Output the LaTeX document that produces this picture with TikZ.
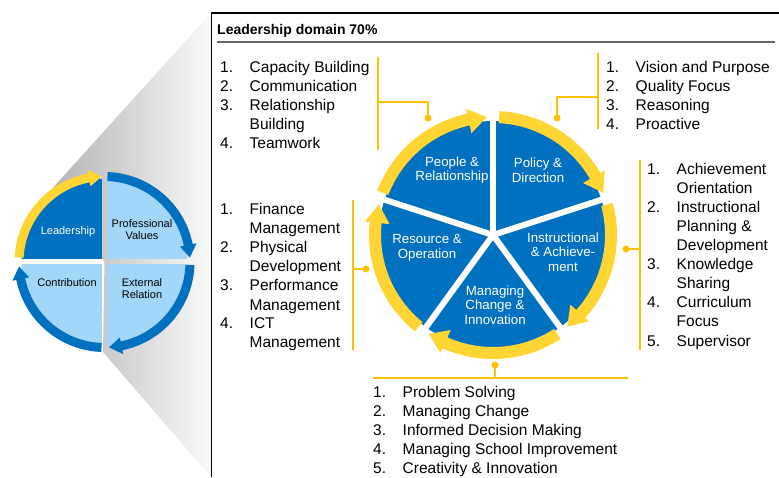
\documentclass[tikz,border=0pt]{standalone}
\usepackage{fontspec}
\setmainfont{Liberation Sans}
\definecolor{dblue}{RGB}{0,112,192}
\definecolor{lblue}{RGB}{162,215,250}
\definecolor{yel}{RGB}{255,213,51}
\definecolor{connc}{RGB}{255,192,0}
% #1 colour, #2 start angle, #3 tip angle, #4 r in, #5 r out, #6 head length (deg), #7 head inner r, #8 head outer r
\newcommand\ringarrow[8]{%
  \pgfmathsetmacro\arHB{#3+#6}%
  \pgfmathsetmacro\arRM{(#4+#5)/2}%
  \fill[#1] (#2:#5) arc[start angle=#2, end angle=\arHB, radius=#5] -- (\arHB:#8) -- (#3:\arRM) -- (\arHB:#7) -- (\arHB:#4) arc[start angle=\arHB, end angle=#2, radius=#4] -- cycle;%
}
\tikzset{
  lst/.style={font=\fontsize{15.5}{19}\selectfont, inner sep=0pt, anchor=base west},
  ttlstyle/.style={font=\fontsize{14}{16}\selectfont\bfseries, inner sep=0pt, anchor=base west},
  wheellbl/.style={font=\fontsize{13.3}{14.5}\selectfont, text=white, align=center, inner sep=0pt},
  quadlbl/.style={font=\fontsize{11}{12}\selectfont, align=center, inner sep=0pt},
  conn/.style={draw=connc, line width=1.5},
  dot/.style={circle, fill=connc, inner sep=0pt, minimum size=7},
}
\begin{document}
\begin{tikzpicture}[x=1pt,y=1pt]
\useasboundingbox (0,0) rectangle (779,477);
% grey zoom wedge
\shade[left color=black!30, right color=black!2] (211,464) -- (50,286) -- (104.5,215) -- (103,125) -- (211,0) -- cycle;
% frame
\draw[line width=1.3] (211.5,0) -- (211.5,464) -- (779,464);
\node[ttlstyle] (ttl) at (217,442) {Leadership domain 70\%};
\draw[black!60, line width=1.2] (217,435) -- (775,435);

% ---------- left circle ----------
\begin{scope}[shift={(104.5,215)}]
  \begin{scope}
    \clip (0,0) circle[radius=83];
    \fill[dblue] (-100,2.5) rectangle (-2.5,100);
    \fill[lblue] (2.5,2.5) rectangle (100,100);
    \fill[lblue] (2.5,-2.5) rectangle (100,-100);
    \fill[lblue] (-100,-2.5) rectangle (-2.5,-100);
  \end{scope}
  \ringarrow{yel}{177}{92}{81}{90}{8.5}{77}{94}
  \ringarrow{dblue}{88}{3}{81}{90}{8.5}{77}{94}
  \ringarrow{dblue}{-2}{-87}{81}{90}{8.5}{77}{94}
  \ringarrow{dblue}{268}{183}{81}{90}{8.5}{77}{94}
  \node[quadlbl, text=white] (qlead) at (-36.5,30) {Leadership};
  \node[quadlbl] (qprof) at (37.5,32) {Professional\\Values};
  \node[quadlbl] (qcont) at (-37.5,-21) {Contribution};
  \node[quadlbl] (qext) at (37.5,-27) {External\\Relation};
\end{scope}

% ---------- main wheel ----------
\begin{scope}[shift={(493,242)}]
  \fill[dblue] (0,0) circle[radius=114];
  \foreach \a in {90,18,-54,-126,162} \draw[white, line width=6] (0,0) -- (\a:116);
  \ringarrow{yel}{159}{93}{112}{124}{9}{104}{129}
  \ringarrow{yel}{87}{21}{112}{124}{9}{104}{129}
  \ringarrow{yel}{15}{-51}{112}{124}{9}{104}{129}
  \ringarrow{yel}{-57}{-123}{112}{124}{9}{104}{129}
  \ringarrow{yel}{231}{165}{112}{124}{9}{104}{129}
  \node[wheellbl] (wpeople) at (-41,65) {People \&\\Relationship};
  \node[wheellbl] (wpolicy) at (45,65) {Policy \&\\Direction};
  \node[wheellbl] (winstr) at (70,-17) {Instructional\\\& Achieve-\\ment};
  \node[wheellbl] (wmanag) at (2,-70) {Managing\\Change \&\\Innovation};
  \node[wheellbl] (wresrc) at (-66,-13) {Resource \&\\Operation};
\end{scope}

% ---------- lists ----------
\foreach \nm/\tx [count=\i] in {1./Capacity Building, 2./Communication, 3./Relationship, {}/Building, 4./Teamwork} {
  \node[lst] (lan\i) at (220,423-19*\i) {\nm};
  \node[lst] (lat\i) at (249.5,423-19*\i) {\tx};
}
\foreach \nm/\tx [count=\i] in {1./Vision and Purpose, 2./Quality Focus, 3./Reasoning, 4./Proactive} {
  \node[lst] (lbn\i) at (606,423-19*\i) {\nm};
  \node[lst] (lbt\i) at (635.5,423-19*\i) {\tx};
}
\foreach \nm/\tx [count=\i] in {1./Achievement, {}/Orientation, 2./Instructional, {}/Planning \&, {}/Development, 3./Knowledge, {}/Sharing, 4./Curriculum, {}/Focus, 5./Supervisor} {
  \node[lst] (lcn\i) at (647,321-19*\i) {\nm};
  \node[lst] (lct\i) at (676.5,321-19*\i) {\tx};
}
\foreach \nm/\tx [count=\i] in {1./Finance, {}/Management, 2./Physical, {}/Development, 3./Performance, {}/Management, 4./ICT, {}/Management} {
  \node[lst] (ldn\i) at (220,281-19*\i) {\nm};
  \node[lst] (ldt\i) at (249.5,281-19*\i) {\tx};
}
\foreach \nm/\tx [count=\i] in {1./Problem Solving, 2./Managing Change, 3./Informed Decision Making, 4./Managing School Improvement, 5./Creativity \& Innovation} {
  \node[lst] (len\i) at (373,99-19*\i) {\nm};
  \node[lst] (let\i) at (402.5,99-19*\i) {\tx};
}

% ---------- connectors ----------
\node[dot] (dot1) at (428,359) {};
\node[dot] (dot2) at (557,359) {};
\node[dot] (dot3) at (626,228) {};
\node[dot] (dot4) at (366,208) {};
\node[dot] (dot5) at (495,112) {};
\coordinate (b1t) at (378,420); \coordinate (b1b) at (378,327); \coordinate (b1m) at (378,375);
\coordinate (b2t) at (598,424); \coordinate (b2b) at (598,348); \coordinate (b2m) at (598,380);
\coordinate (b3t) at (640,317); \coordinate (b3b) at (640,127); \coordinate (b3m) at (640,228);
\coordinate (b4t) at (353,277); \coordinate (b4b) at (353,127); \coordinate (b4m) at (353,208);
\coordinate (b5l) at (373,99); \coordinate (b5r) at (628,99); \coordinate (b5m) at (495,99);
\draw[conn] (b1t) -- (b1b);
\draw[conn] (b1m) -| (dot1.center);
\draw[conn] (b2t) -- (b2b);
\draw[conn] (b2m) -| (dot2.center);
\draw[conn] (b3t) -- (b3b);
\draw[conn] (b3m) -- (dot3.center);
\draw[conn] (b4t) -- (b4b);
\draw[conn] (b4m) -- (dot4.center);
\draw[conn] (b5l) -- (b5r);
\draw[conn] (b5m) -- (dot5.center);
\end{tikzpicture}
\end{document}
